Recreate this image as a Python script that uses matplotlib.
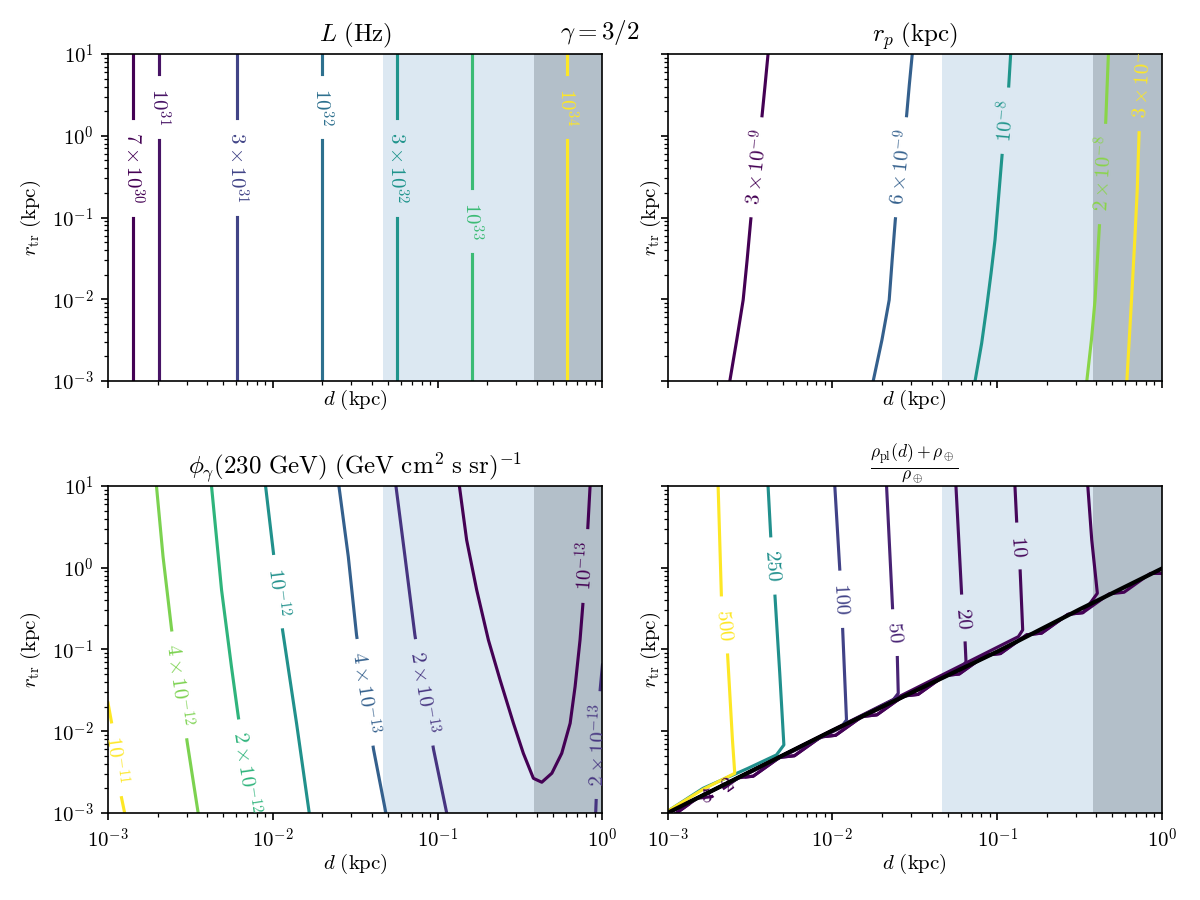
import numpy as np
import matplotlib
matplotlib.use("Agg")
import matplotlib.pyplot as plt
from matplotlib.colors import LogNorm, Normalize
from matplotlib.ticker import FuncFormatter, NullFormatter

plt.rcParams["mathtext.fontset"] = "cm"
plt.rcParams["font.family"] = "serif"
plt.rcParams["font.serif"] = ["DejaVu Serif"]
plt.rcParams["font.size"] = 10

# ---------------- data (log10 values) ----------------
D_LIM = (1e-3, 1.0)
R_LIM = (1e-3, 10.0)
BLUE_SPAN = (0.0466, 0.382)
GREY_SPAN = (0.382, 1.0)

# Panel 1: L (Hz) -- vertical contours
L_levels = [7e30, 1e31, 3e31, 1e32, 3e32, 1e33, 1e34]
L_labels = [r"$7\times10^{30}$", r"$10^{31}$", r"$3\times10^{31}$", r"$10^{32}$",
            r"$3\times10^{32}$", r"$10^{33}$", r"$10^{34}$"]
L_logd = [-2.846, -2.690, -2.217, -1.700, -1.245, -0.790, -0.213]
L_label_logr = [-0.394, 0.352, -0.394, 0.352, -0.394, -1.040, 0.352]

# Panel 2: r_p (kpc)
RP_levels = [3e-9, 6e-9, 1e-8, 2e-8, 3e-8]
RP_labels = [r"$3\times10^{-9}$", r"$6\times10^{-9}$", r"$10^{-8}$",
             r"$2\times10^{-8}$", r"$3\times10^{-8}$"]
RP_logd = [[-2.390, -2.408, -2.426, -2.495, -2.517, -2.541, -2.580, -2.622],
           [-1.515, -1.533, -1.549, -1.618, -1.637, -1.655, -1.699, -1.752],
           [-0.918, -0.930, -0.970, -0.991, -1.013, -1.037, -1.063, -1.094, -1.134],
           [-0.325, -0.341, -0.380, -0.394, -0.406, -0.428, -0.456],
           [-0.110, -0.139, -0.150, -0.165, -0.187, -0.213]]
RP_logr = [[1.0, 0.621, 0.254, -1.031, -1.520, -2.009, -2.498, -3.0],
           [1.0, 0.621, 0.254, -1.031, -1.520, -2.009, -2.498, -3.0],
           [1.0, 0.600, -0.235, -0.745, -1.275, -1.683, -2.091, -2.539, -3.0],
           [1.0, 0.180, -1.120, -1.601, -2.009, -2.498, -3.0],
           [1.0, 0.030, -0.664, -1.275, -2.091, -3.0]]
RP_label_logd = [-2.46, -1.58, -0.95, -0.36, -0.12]
RP_label_logr = [-0.386, -0.386, 0.184, -0.468, 0.67]

# Panel 3: phi_gamma
PHI_levels = [1e-11, 4e-12, 2e-12, 1e-12, 4e-13, 2e-13, 2e-13, 1e-13]
PHI_labels = [r"$10^{-11}$", r"$4\times10^{-12}$", r"$2\times10^{-12}$", r"$10^{-12}$",
              r"$4\times10^{-13}$", r"$2\times10^{-13}$", r"$2\times10^{-13}$", r"$10^{-13}$"]
PHI_logd = [[-3.0, -2.979, -2.919, -2.899],
            [-2.706, -2.666, -2.615, -2.520, -2.453],
            [-2.372, -2.311, -2.251, -2.210, -2.123],
            [-2.044, -1.996, -1.941, -1.856, -1.779],
            [-1.599, -1.542, -1.492, -1.389, -1.314],
            [-1.253, -1.198, -1.138, -1.025, -0.945],
            [0.0, -0.014, -0.038, -0.041],
            [-0.868, -0.824, -0.763, -0.692, -0.621, -0.540, -0.480, -0.419, -0.368,
             -0.307, -0.247, -0.196, -0.166, -0.136, -0.119, -0.089, -0.075]]
PHI_logr = [[-1.654, -1.887, -2.804, -3.0],
            [1.0, 0.135, -0.741, -2.128, -3.0],
            [1.0, -0.272, -1.210, -1.813, -3.0],
            [1.0, 0.177, -0.761, -1.903, -3.0],
            [1.0, 0.135, -0.823, -2.221, -3.0],
            [1.0, 0.135, -0.823, -2.221, -3.0],
            [-1.19, -1.495, -2.84, -3.0],
            [1.0, 0.339, -0.272, -0.884, -1.373, -1.903, -2.270, -2.576, -2.624,
             -2.514, -2.270, -1.903, -1.455, -0.884, -0.456, 0.482, 1.0]]
PHI_label_logd = [-2.95, -2.57, -2.165, -1.97, -1.44, -1.08, -0.05, -0.105]
PHI_label_logr = [-2.35, -1.434, -2.51, -0.293, -1.524, -1.524, -2.168, 0.021]
PHI_norm_levels = [1e-13, 1e-11]

# Panel 4: density ratio
RHO_levels = [2, 5, 10, 20, 50, 100, 250, 500]
RHO_labels = ["$2$", "$5$", "$10$", "$20$", "$50$", "$100$", "$250$", "$500$"]
RHO_top_logd = [[],
                [-0.450, -0.426, -0.392, -0.436],
                [-0.892, -0.881, -0.861, -0.845, -0.871],
                [-1.250, -1.215, -1.195, -1.189, -1.215],
                [-1.671, -1.634, -1.606, -1.600, -1.631],
                [-1.985, -1.954, -1.938, -1.914, -1.944],
                [-2.390, -2.373, -2.349, -2.319, -2.294, -2.339, -2.511, -2.784, -2.987],
                [-2.693, -2.673, -2.636, -2.606, -2.592, -2.784, -2.987]]
RHO_top_logr = [[],
                [1.0, 0.339, -0.313, -0.435],
                [1.0, 0.544, -0.007, -0.761, -0.843],
                [1.0, -0.346, -0.884, -1.149, -1.230],
                [1.0, -0.517, -1.067, -1.536, -1.618],
                [1.0, -0.048, -0.721, -1.862, -1.944],
                [1.0, 0.360, -0.313, -1.291, -2.168, -2.290, -2.453, -2.698, -2.963],
                [1.0, -0.354, -1.047, -2.107, -2.515, -2.710, -2.963]]
RHO_label_logd = [-2.642, -2.768, -0.871, -1.205, -1.620, -1.946, -2.361, -2.655]
RHO_label_logr = [-2.633, -2.719, 0.266, -0.615, -0.794, -0.386, 0.021, -0.700]
# staircase followed by the low contours along the diagonal
STAIR_LOGD = [0.02, -0.07, -0.23, -0.32, -0.48, -0.57, -0.73, -0.82, -0.98, -1.07,
              -1.23, -1.32, -1.48, -1.57, -1.73, -1.82, -1.98, -2.07, -2.23, -2.32,
              -2.48, -2.57, -2.73, -2.82, -2.98, -3.07]
STAIR_LOGR = [-0.07, -0.07, -0.30, -0.32, -0.55, -0.57, -0.80, -0.82, -1.05, -1.07,
              -1.30, -1.32, -1.55, -1.57, -1.80, -1.82, -2.05, -2.07, -2.30, -2.32,
              -2.55, -2.57, -2.80, -2.82, -3.05, -3.07]
# black line r_tr = d
BLACK_LOGD = [-3.0, -2.0, -1.0, -0.5, 0.0]
BLACK_LOGR = [-3.0, -1.993, -1.027, -0.510, -0.010]

# ---------------- figure ----------------
fig, axs = plt.subplots(2, 2, figsize=(8, 6), dpi=150)
fig.subplots_adjust(left=0.09, right=0.9683, bottom=0.0967, top=0.94,
                    wspace=0.1316, hspace=0.321)
renderer = fig.canvas.get_renderer()
PAD_PX = 14.0 * fig.dpi / 150.0
LW = 1.5

for i, ax in enumerate(axs.flat):
    ax.set_xscale("log")
    ax.set_yscale("log")
    ax.set_xlim(*D_LIM)
    ax.set_ylim(*R_LIM)
    ax.axvspan(*BLUE_SPAN, color="#dce8f2", lw=0, zorder=0.5)
    ax.axvspan(*GREY_SPAN, color="#b3bfc9", lw=0, zorder=0.5)
    fmt = FuncFormatter(lambda v, p: r"$10^{%d}$" % int(round(np.log10(v))))
    ax.xaxis.set_major_formatter(fmt)
    ax.yaxis.set_major_formatter(fmt)
    ax.xaxis.set_minor_formatter(NullFormatter())
    ax.yaxis.set_minor_formatter(NullFormatter())
    ax.set_xlabel(r"$d\ \mathrm{(kpc)}$", labelpad=(-2.2 if i < 2 else 0.2))
    ax.set_ylabel(r"$r_{\rm tr}\ \mathrm{(kpc)}$", labelpad=(-3.3 if i % 2 == 1 else 4.0))
    if i < 2:
        ax.tick_params(axis="x", labelbottom=False)
    if i % 2 == 1:
        ax.tick_params(axis="y", labelleft=False)


def cut_path(P, C, R):
    pieces, cur = [], []
    for i in range(len(P) - 1):
        p0, p1 = P[i], P[i + 1]
        s = p1 - p0
        a = s @ s
        b = 2 * s @ (p0 - C)
        c = (p0 - C) @ (p0 - C) - R * R
        ts = [0.0]
        disc = b * b - 4 * a * c
        if a > 0 and disc > 0:
            sq = np.sqrt(disc)
            for t in sorted(((-b - sq) / (2 * a), (-b + sq) / (2 * a))):
                if 0 < t < 1:
                    ts.append(t)
        ts.append(1.0)
        for t0, t1 in zip(ts[:-1], ts[1:]):
            q0, q1 = p0 + t0 * s, p0 + t1 * s
            m = 0.5 * (q0 + q1)
            if np.hypot(*(m - C)) < R:
                if len(cur) > 1:
                    pieces.append(np.array(cur))
                cur = []
            else:
                if not cur:
                    cur = [q0]
                cur.append(q1)
    if len(cur) > 1:
        pieces.append(np.array(cur))
    return pieces


def draw_contour(ax, logd, logr, color, label=None, lab_logd=None, lab_logr=None, z=2):
    d = 10.0 ** np.asarray(logd, float)
    r = 10.0 ** np.asarray(logr, float)
    P = ax.transData.transform(np.column_stack([d, r]))
    pieces = [P]
    if label is not None:
        T = ax.transData.transform([[10.0 ** lab_logd, 10.0 ** lab_logr]])[0]
        best = None
        for i in range(len(P) - 1):
            p0, p1 = P[i], P[i + 1]
            s = p1 - p0
            L2 = s @ s
            t = np.clip(((T - p0) @ s) / L2, 0, 1) if L2 > 0 else 0.0
            q = p0 + t * s
            dist = np.hypot(*(q - T))
            if best is None or dist < best[0]:
                best = (dist, q, s)
        _, C, s = best
        ang = np.degrees(np.arctan2(s[1], s[0]))
        ang = (ang + 90) % 180 - 90
        cx, cy = ax.transData.inverted().transform(C)
        txt = ax.text(cx, cy, label, fontsize=10, color=color, ha="center", va="center",
                      rotation=0, rotation_mode="anchor", zorder=z + 1, clip_on=True)
        w = txt.get_window_extent(renderer).width
        txt.set_rotation(ang)
        pieces = cut_path(P, C, w / 2 + PAD_PX)
    inv = ax.transData.inverted()
    for piece in pieces:
        dd = inv.transform(piece)
        ax.plot(dd[:, 0], dd[:, 1], color=color, lw=LW, zorder=z)


cmap = plt.get_cmap("viridis")

# Panel 1
ax = axs[0, 0]
norm = LogNorm(min(L_levels), max(L_levels))
for lev, lab, ld, lr in zip(L_levels, L_labels, L_logd, L_label_logr):
    draw_contour(ax, [ld, ld], [np.log10(R_LIM[1]), np.log10(R_LIM[0])],
                 cmap(norm(lev)), lab, ld, lr)
ax.set_title(r"$L\ \mathrm{(Hz)}$")

# Panel 2
ax = axs[0, 1]
norm = LogNorm(min(RP_levels), max(RP_levels))
for k, lev in enumerate(RP_levels):
    draw_contour(ax, RP_logd[k], RP_logr[k], cmap(norm(lev)), RP_labels[k],
                 RP_label_logd[k], RP_label_logr[k])
ax.set_title(r"$r_p\ \mathrm{(kpc)}$")

# Panel 3
ax = axs[1, 0]
norm = LogNorm(*PHI_norm_levels)
for k, lev in enumerate(PHI_levels):
    draw_contour(ax, PHI_logd[k], PHI_logr[k], cmap(norm(lev)), PHI_labels[k],
                 PHI_label_logd[k], PHI_label_logr[k])
ax.set_title(r"$\phi_\gamma(230\ \mathrm{GeV})\ (\mathrm{GeV\ cm^2\ s\ sr})^{-1}$")

# Panel 4
ax = axs[1, 1]
norm = Normalize(min(RHO_levels), max(RHO_levels))
for k, lev in enumerate(RHO_levels):
    td, tr = list(RHO_top_logd[k]), list(RHO_top_logr[k])
    if k < 2:
        if td:
            jd = td[-1]
            sd = [x for x in STAIR_LOGD if x < jd]
            sr = [y for x, y in zip(STAIR_LOGD, STAIR_LOGR) if x < jd]
        else:
            sd, sr = STAIR_LOGD, STAIR_LOGR
        td, tr = td + list(sd), tr + list(sr)
    elif k < 6:
        jd = td[-1]
        td += [x for x in BLACK_LOGD if x < jd]
        tr += [y for x, y in zip(BLACK_LOGD, BLACK_LOGR) if x < jd]
    draw_contour(ax, td, tr, cmap(norm(lev)), RHO_labels[k],
                 RHO_label_logd[k], RHO_label_logr[k])
ax.plot(10.0 ** np.array(BLACK_LOGD), 10.0 ** np.array(BLACK_LOGR), color="black",
        lw=2.0, zorder=4)
ax.set_title(r"$\frac{\rho_{\rm pl}(d)+\rho_\oplus}{\rho_\oplus}$")

fig.suptitle(r"$\gamma = 3/2$")
fig.savefig("out.png", dpi=150)
